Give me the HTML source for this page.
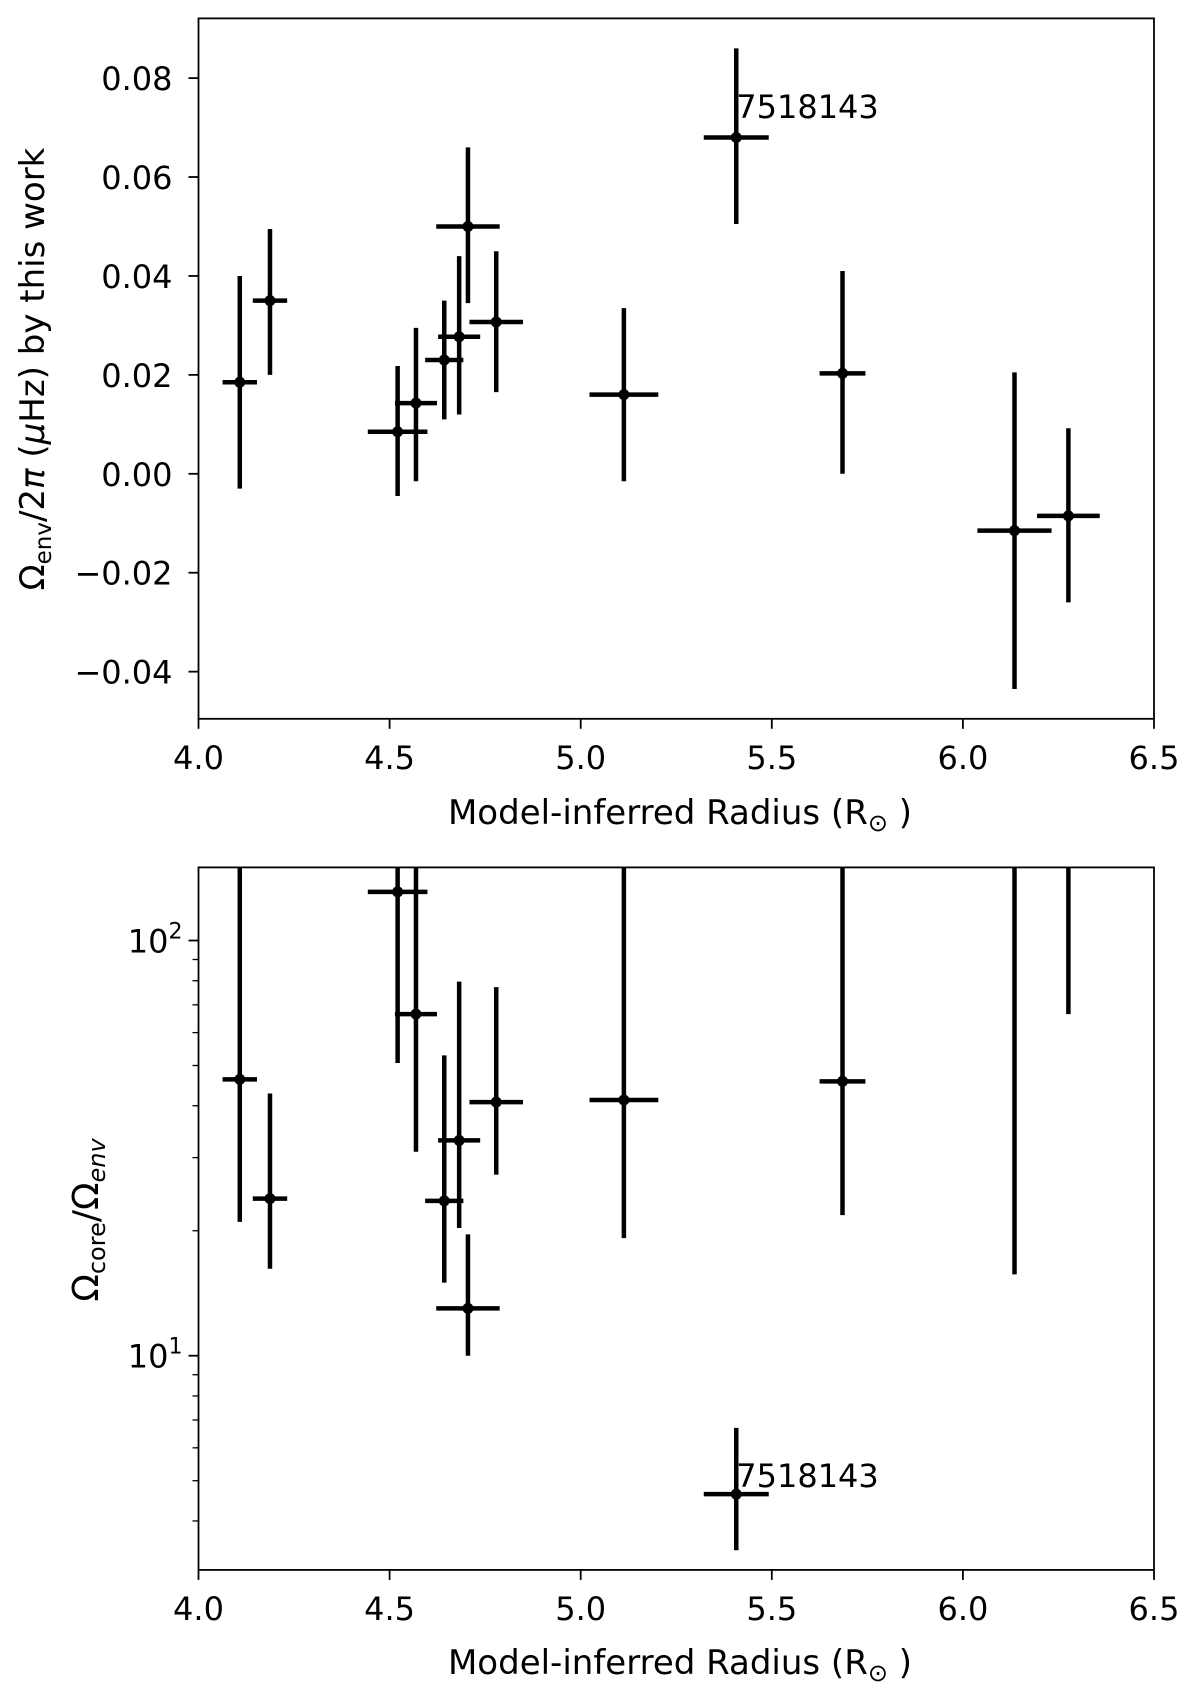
<!DOCTYPE html>
<html><head><meta charset="utf-8"><style>
html,body{margin:0;padding:0;background:#fff;}
svg{display:block;font-family:"DejaVu Sans","Liberation Sans",sans-serif;}
</style></head><body>
<svg id="fig" width="1200" height="1700" viewBox="0 0 1200 1700" xmlns="http://www.w3.org/2000/svg"></svg>
<script>
// shared data
const radius = [4.108,4.187,4.521,4.569,4.643,4.682,4.705,4.779,5.113,5.407,5.685,6.135,6.276];
const radiusErr = [0.045,0.045,0.078,0.055,0.05,0.055,0.083,0.07,0.09,0.085,0.06,0.097,0.082];
// top panel: envelope rotation
const omegaEnv = [0.0185,0.035,0.0085,0.0143,0.023,0.0277,0.050,0.0307,0.016,0.068,0.0203,-0.0115,-0.0085];
const omegaEnvLo = [-0.003,0.020,-0.0045,-0.0015,0.011,0.012,0.0345,0.0165,-0.0015,0.0505,0.000,-0.0435,-0.026];
const omegaEnvHi = [0.040,0.0495,0.0218,0.0295,0.035,0.044,0.066,0.045,0.0335,0.086,0.041,0.0205,0.0092];
// bottom panel: core/env ratio
const ratio = [46.3,23.9,131,66.5,23.6,33,13.0,40.8,41.3,4.64,45.8,250,300];
const ratioLo = [21,16.2,50.7,31,15,20.3,10,27.3,19.2,3.4,21.8,15.7,66.5];
const ratioHi = [400,42.8,400,400,52.9,79.6,19.6,77.2,400,6.7,400,600,600];
const xTicks = [4.0,4.5,5.0,5.5,6.0,6.5];
const yTicksTop = [-0.04,-0.02,0.00,0.02,0.04,0.06,0.08];
const yTickLabelsTop = ["\u22120.04","\u22120.02","0.00","0.02","0.04","0.06","0.08"];
const labelIdx = 9;

const NS="http://www.w3.org/2000/svg";
const svg=document.getElementById('fig');
function mk(tag,attrs,parent){const e=document.createElementNS(NS,tag);for(const k in attrs)e.setAttribute(k,attrs[k]);(parent||svg).appendChild(e);return e;}

const L=198.5,R=1154;
const TF=32, LF=34;
const xs=v=>L+(v-4.0)/(6.5-4.0)*(R-L);

function panel(name,T,B,ys,yv,ylo,yhi){
  const g=mk('g',{});
  
  
  const cid='clip-'+name;
  const cp=mk('clipPath',{id:cid},g);mk('rect',{x:L,y:T,width:R-L,height:B-T},cp);
  const marks=mk('g',{'clip-path':'url(#'+cid+')'},g);
  for(let i=0;i<radius.length;i++){
    const eb=mk('g',{},marks);
    
    
    const x=xs(radius[i]),y=ys(yv[i]);
    mk('line',{x1:x,x2:x,y1:ys(ylo[i]),y2:ys(yhi[i]),stroke:'#000','stroke-width':4.5},eb);
    mk('line',{x1:xs(radius[i]-radiusErr[i]),x2:xs(radius[i]+radiusErr[i]),y1:y,y2:y,stroke:'#000','stroke-width':4.5},eb);
    mk('circle',{cx:x,cy:y,r:5.5,fill:'#000'},eb);
  }
  mk('rect',{x:L,y:T,width:R-L,height:B-T,fill:'none',stroke:'#000','stroke-width':1.8},g);
  xTicks.forEach(v=>{
    const x=xs(v);
    mk('line',{x1:x,x2:x,y1:B,y2:B+10,stroke:'#000','stroke-width':1.8},g);
    const t=mk('text',{x:x,y:B+50,'font-size':TF,'text-anchor':'middle'},g);
    
    
    t.textContent=v.toFixed(1);
  });
  return g;
}

// top panel
const T1=18.4,B1=718.8;
const ys1=v=>473.8-v*(473.8-78.1)/0.08;
const g1=panel('top-panel',T1,B1,ys1,omegaEnv,omegaEnvLo,omegaEnvHi);
yTicksTop.forEach((v,i)=>{
  const y=ys1(v);
  mk('line',{x1:L-10,x2:L,y1:y,y2:y,stroke:'#000','stroke-width':1.8},g1);
  const t=mk('text',{x:L-26,y:y+12,'font-size':TF,'text-anchor':'end'},g1);
  
  
  t.textContent=yTickLabelsTop[i];
});
const a1=mk('text',{x:xs(radius[labelIdx]),y:118,'font-size':TF},g1);


a1.textContent='7518143';
const xl1=mk('text',{x:680,y:824,'font-size':LF,'text-anchor':'middle'},g1);


xl1.innerHTML='Model-inferred Radius (R<tspan font-size="24" dy="7">\u2299</tspan><tspan dy="-7"> )</tspan>';
const yl1=mk('text',{x:0,y:0,'font-size':LF,'text-anchor':'middle',transform:'translate(44,369) rotate(-90)'},g1);


yl1.innerHTML='\u03A9<tspan font-size="23" dy="7">env</tspan><tspan dy="-7">/2</tspan><tspan font-style="italic">\u03C0</tspan> (<tspan font-style="italic">\u03BC</tspan>Hz) by this work';

// bottom panel (log)
const T2=867.4,B2=1569.9;
const dec=415.2; // px per decade
const ys2=v=>T2+ (Math.log10(150)-Math.log10(v))*dec;
const g2=panel('bottom-panel',T2,B2,ys2,ratio,ratioLo,ratioHi);
[10,100].forEach((v,i)=>{
  const y=ys2(v);
  mk('line',{x1:L-10,x2:L,y1:y,y2:y,stroke:'#000','stroke-width':1.8},g2);
  const t=mk('text',{x:L-16,y:y+12,'font-size':TF,'text-anchor':'end'},g2);
  
  
  t.innerHTML='10<tspan font-size="22" dy="-14">'+(i+1)+'</tspan>';
});
[3,4,5,6,7,8,9,20,30,40,50,60,70,80,90].forEach(v=>{
  const y=ys2(v); if(y<T2||y>B2)return;
  mk('line',{x1:L-6,x2:L,y1:y,y2:y,stroke:'#000','stroke-width':1.3},g2);
});
const a2=mk('text',{x:xs(radius[labelIdx]),y:1487,'font-size':TF},g2);


a2.textContent='7518143';
const xl2=mk('text',{x:680,y:1674,'font-size':LF,'text-anchor':'middle'},g2);


xl2.innerHTML='Model-inferred Radius (R<tspan font-size="24" dy="7">\u2299</tspan><tspan dy="-7"> )</tspan>';
const yl2=mk('text',{x:0,y:0,'font-size':36,'text-anchor':'middle',transform:'translate(98,1220) rotate(-90)'},g2);


yl2.innerHTML='\u03A9<tspan font-size="24" dy="7">core</tspan><tspan dy="-7">/\u03A9</tspan><tspan font-size="24" dy="7" font-style="italic">env</tspan>';
</script>
</body></html>
